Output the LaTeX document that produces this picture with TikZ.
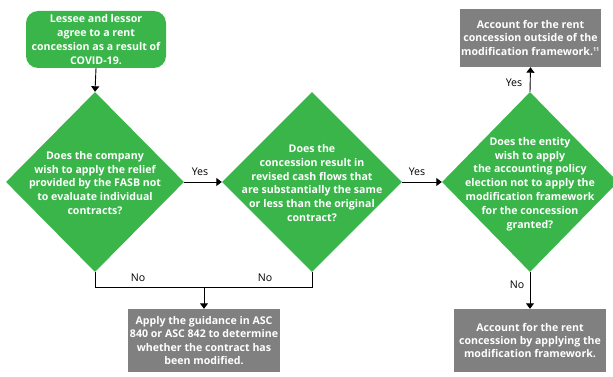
\documentclass[tikz,border=0pt]{standalone}
\usepackage{fontspec}
\setmainfont{Open Sans}
\usetikzlibrary{shapes.geometric,arrows.meta}
\definecolor{dgreen}{RGB}{58,181,74}
\definecolor{dgray}{RGB}{128,128,128}
\tikzset{
  arr/.style={draw=black,line width=0.9pt,-{Triangle[length=5.5pt,width=8pt]}},
  ln/.style={draw=black,line width=0.9pt},
  dia/.style={diamond,fill=dgreen,draw=none,inner sep=0pt,minimum width=#1,minimum height=180pt},
  txt/.style={text=white,font=\bfseries\fontsize{10.6}{13.8}\selectfont,align=center,inner sep=0pt},
  graybox/.style={fill=dgray,draw=none,text=white,font=\bfseries\fontsize{10.6}{13.3}\selectfont,align=center,inner sep=0pt},
  lab/.style={font=\fontsize{10.6}{12}\selectfont,text=black,inner sep=0pt}
}
\begin{document}
\begin{tikzpicture}[x=1pt,y=-1pt]
\useasboundingbox (0,0) rectangle (613,377);
\node[fill=dgreen,rounded corners=12pt,minimum width=140pt,minimum height=57pt,txt] (start) at (96,39.5)
  {Lessee and lessor\\agree to a rent\\concession as a result of\\COVID-19.};
\node[dia=178pt] (d1) at (95,182) {};
\node[txt] (d1t) at (95,183) {Does the company\\wish to apply the relief\\provided by the FASB not\\to evaluate individual\\contracts?};
\node[dia=180pt] (d2) at (312,182) {};
\node[txt] (d2t) at (312,183) {Does the\\concession result in\\revised cash flows that\\are substantially the same\\or less than the original\\contract?};
\node[dia=176pt] (d3) at (530,182) {};
\node[txt] (d3t) at (530,184) {Does the entity\\wish to apply\\the accounting policy\\election not to apply the\\modification framework\\for the concession\\granted?};
\node[graybox,minimum width=141pt,minimum height=58pt] (tr) at (530.5,38)
  {Account for the rent\\concession outside of the\\modification framework.\textsuperscript{\fontsize{5.5}{5.5}\selectfont 11}};
\node[graybox,minimum width=152pt,minimum height=63pt] (br) at (530,340.5)
  {Account for the rent\\concession by applying the\\modification framework.};
\node[graybox,minimum width=152pt,minimum height=63pt] (bl) at (204,340.5)
  {Apply the guidance in ASC\\840 or ASC 842 to determine\\whether the contract has\\been modified.};
\draw[arr] (start.south) -- (d1.north);
\draw[arr] (d1.east) -- (d2.west);
\draw[arr] (d2.east) -- (d3.west);
\draw[arr] (d3.north) -- (tr.south);
\draw[arr] (d3.south) -- (br.north);
\coordinate (jl) at (95,287);
\coordinate (jr) at (312,287);
\coordinate (jm) at (bl.north |- jl);
\draw[ln] (d1.south) -- (jl) -- (jr) -- (d2.south);
\draw[arr] (jm) -- (bl.north);
\node[lab] (y1) at (200,172) {Yes};
\node[lab] (y2) at (417,172) {Yes};
\node[lab] (y3) at (514,83) {Yes};
\node[lab] (n1) at (138,278) {No};
\node[lab] (n2) at (265,278) {No};
\node[lab] (n3) at (517,285) {No};
\end{tikzpicture}
\end{document}
